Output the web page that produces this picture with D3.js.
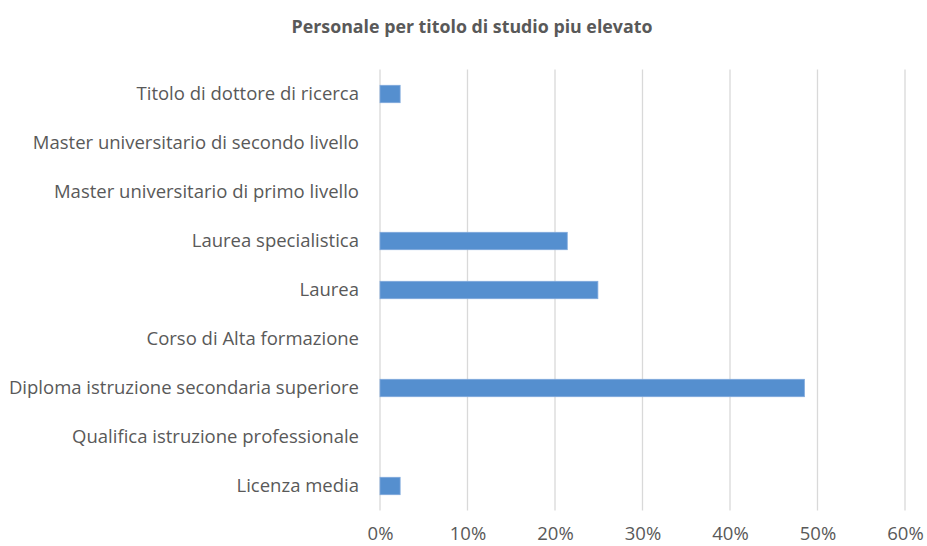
<!DOCTYPE html>
<html>
<head>
<meta charset="utf-8">
<script src="https://cdn.jsdelivr.net/npm/d3@7"></script>
<style>
body{margin:0;background:#fff;}
text{font-family:"Open Sans",sans-serif;fill:#595959;}
</style>
</head>
<body>
<div id="grafico"></div>
<script>
// titoli di studio, dall'alto in basso
var categorie = ["Titolo di dottore di ricerca","Master universitario di secondo livello",
	"Master universitario di primo livello","Laurea specialistica","Laurea",
	"Corso di Alta formazione","Diploma istruzione secondaria superiore",
	"Qualifica istruzione professionale","Licenza media"];
var valori = [0.023,0,0,0.214,0.249,0,0.485,0,0.023];
var tickX = [0,0.1,0.2,0.3,0.4,0.5,0.6];
var titolo = "Personale per titolo di studio piu elevato";

var w = 927, h = 546;
var margin = {top:69.5, right:22, bottom:35.5, left:380};

var svg = d3.select("#grafico").append("svg")
	.attr("width",w)
	.attr("height",h);

var x = d3.scaleLinear().domain([0,0.6]).range([margin.left,w-margin.right]);
var y = d3.scaleBand().domain(categorie).range([margin.top,h-margin.bottom]).paddingInner(0.645).paddingOuter(0.3225);

svg.append("text")
	.attr("x",472)
	.attr("y",33)
	.attr("text-anchor","middle")
	.style("font-size","17.8px")
	.style("font-weight","bold")
	.text(titolo);

//linee griglia
svg.append("g").selectAll("line").data(tickX).enter().append("line")
	.attr("x1",function(d){return x(d);})
	.attr("x2",function(d){return x(d);})
	.attr("y1",margin.top)
	.attr("y2",h-margin.bottom)
	.attr("stroke","#d9d9d9")
	.attr("stroke-width",1.3);

//asse x
var assex = svg.append("g")
	.attr("transform","translate(0,"+(h-margin.bottom)+")")
	.call(d3.axisBottom(x).tickValues(tickX).tickFormat(d3.format(".0%")).tickSize(0).tickPadding(16));
assex.select(".domain").remove();
assex.selectAll("text").style("font-size","18.5px").style("font-family","'Open Sans',sans-serif").attr("fill","#595959");

//asse y
var assey = svg.append("g")
	.attr("transform","translate("+margin.left+",0)")
	.call(d3.axisLeft(y).tickSize(0).tickPadding(21));
assey.select(".domain").remove();
assey.selectAll("text").style("font-size","18.5px").style("font-family","'Open Sans',sans-serif").attr("fill","#595959");

//barre
svg.append("g").selectAll("rect").data(valori).enter().append("rect")
	.attr("x",x(0))
	.attr("y",function(d,i){return y(categorie[i]);})
	.attr("width",function(d){return x(d)-x(0);})
	.attr("height",y.bandwidth())
	.attr("fill","#558fcf")
	.attr("stroke","#7fa9dc")
	.attr("stroke-width",function(d){return d>0?0.8:0;});
</script>
</body>
</html>
